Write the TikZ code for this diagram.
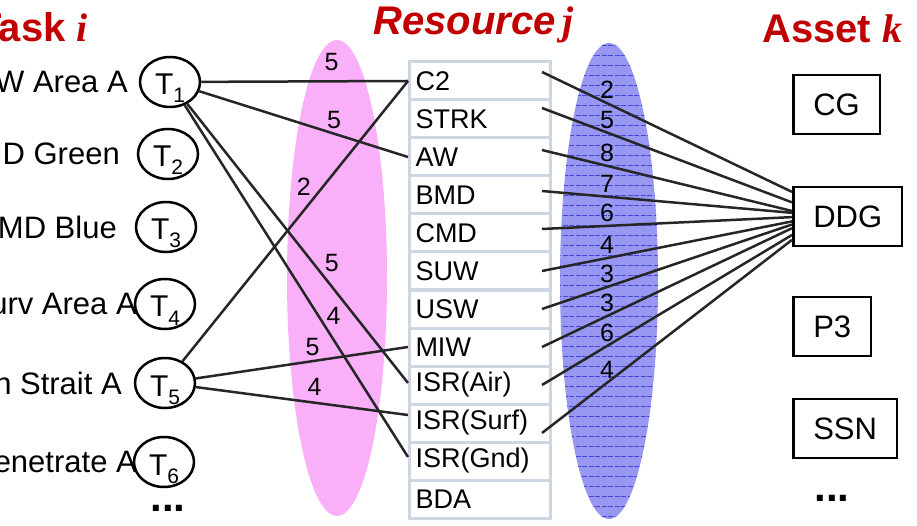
\documentclass[tikz,border=0pt]{standalone}
\usepackage{fontspec}
\setmainfont{Liberation Sans}
\newfontfamily\idxfont{Liberation Serif}
\usetikzlibrary{
	positioning				% relative placement
	, shapes.geometric		% ellipse nodes for the tasks
	, calc					% points along the DDG box edge
}

\definecolor{titlered}{RGB}{192,0,0}
\definecolor{cellgrey}{RGB}{206,214,226}
\definecolor{pinkfill}{RGB}{249,176,249}
\definecolor{bluefill}{RGB}{152,152,242}
\definecolor{blueline}{RGB}{70,70,222}
\definecolor{linkgrey}{RGB}{38,38,38}

\begin{document}
\begin{tikzpicture}[x=1pt, y=-1pt,
			title/.style={
				text=titlered,
				font=\fontsize{40}{40}\selectfont\bfseries,
				inner sep=0pt
			},
			task/.style={
				ellipse,
				draw=black, line width=2.5pt,
				minimum width=60pt,
				minimum height=50pt,
				inner sep=0pt,
				font=\fontsize{30}{30}\selectfont
			},
			tasklabel/.style={
				anchor=east,
				inner sep=0pt,
				font=\fontsize{31}{31}\selectfont
			},
			cell/.style={
				rectangle,
				draw=cellgrey, line width=3pt,
				fill=white,
				minimum height=38pt,
				text width=129pt,
				inner xsep=6pt,
				align=left,
				font=\fontsize{27}{27}\selectfont
			},
			asset/.style={
				rectangle,
				draw=black, line width=2.5pt,
				anchor=west,
				minimum height=59pt,
				inner xsep=20pt,
				font=\fontsize{31}{31}\selectfont
			},
			dots/.style={
				inner sep=0pt,
				font=\fontsize{42}{42}\selectfont\bfseries
			},
			link/.style={
				draw=linkgrey,
				line width=2.5pt
			},
			weight/.style={
				inner sep=1pt,
				font=\fontsize{25}{25}\selectfont
			}]

			\useasboundingbox (0,0) rectangle (917,526);

			%%% Shaded bands behind the two sets of weights
			\fill[pinkfill] (337,278) ellipse [x radius=50pt, y radius=238pt];
			\fill[bluefill] (609,281) ellipse [x radius=49pt, y radius=238pt];
			\begin{scope}
				\clip (609,281) ellipse [x radius=49pt, y radius=238pt];
				\foreach \yy in {46,56,...,516}
					\draw[blueline, line width=1pt, dash pattern=on 5pt off 1.5pt] (556,\yy) -- (662,\yy);
			\end{scope}

			%%% Column headings
			\node[title, anchor=base east] (tasktitle) at (88,42) {Task {\idxfont\itshape i}};
			\node[title, anchor=base west] (restitle) at (373,35) {\itshape Resource\,{\idxfont j}};
			\node[title, anchor=base west] (assettitle) at (762,43) {Asset {\idxfont\itshape k}};

			%%% Tasks down the left
			\foreach [count=\i] \tx/\ty/\lx/\ltxt in {170/82/128/ASW Area A, 168/154/120/BMD Green, 166/227/117/BMD Blue, 165/304/137/Surv Area A, 165/383/122/Taiwan Strait A, 164/462/137/Penetrate A} {
				\node[tasklabel] (lbl\i) at (\lx,\ty) {\ltxt};
				\node[task] (t\i) at (\tx,\ty) {\smash{\raisebox{-13pt}{T\raisebox{-8pt}{\fontsize{21}{21}\selectfont\i}}}};
			}
			\node[dots] (taskdots) at (168,508) {...};

			%%% Resource list
			\foreach [count=\i] \res in {C2, STRK, AW, BMD, CMD, SUW, USW, MIW, ISR(Air), ISR(Surf), ISR(Gnd), BDA}
				\node[cell] (r\i) at (480, {81+38*(\i-1)}) {\res};

			%%% Assets on the right
			\node[asset] (cg) at (792,104.5) {CG};
			\node[asset] (ddg) at (792,216.5) {DDG};
			\node[asset] (p3) at (792,326.5) {P3};
			\node[asset] (ssn) at (792,428.5) {SSN};
			\node[dots] (assetdots) at (832,498) {...};

			%%% Task -> resource links
			\path[link] (t1) edge node[weight, pos=.63, yshift=19pt] {5} (r1.west);
			\path[link] (t1) edge node[weight, pos=.646, yshift=14pt] {5} (r3.west);
			\path[link] (t1) edge node[weight, pos=.6, xshift=12pt, yshift=8pt] {5} ([yshift=2pt]r9.west);
			\path[link] (t1) edge node[weight, pos=.6, xshift=15pt] {4} ([yshift=4pt]r11.west);
			\path[link] (t5) edge node[weight, pos=.6, xshift=-14pt, yshift=6pt] {2} (r1.west);
			\path[link] (t5) edge node[weight, pos=.55, yshift=14pt] {5} (r8.west);
			\path[link] (t5) edge node[weight, pos=.56, yshift=16pt] {4} ([yshift=8pt]r10.west);

			%%% Resource -> DDG links
			\foreach \i/\dy/\f/\w in {1/9/.10/2, 2/11/.27/5, 3/7/.41/8, 4/4/.44/7, 5/4/.51/6, 6/0/.58/4, 7/0/.63/3, 8/0/.69/3, 9/0/.80/6, 10/-10/.88/4}
				\path[link] ([xshift=-10pt, yshift=\dy pt]r\i.east) edge node[weight, pos=.26, above=2pt] {\w} ($(ddg.north west)!\f!(ddg.south west)$);

		\end{tikzpicture}
\end{document}
